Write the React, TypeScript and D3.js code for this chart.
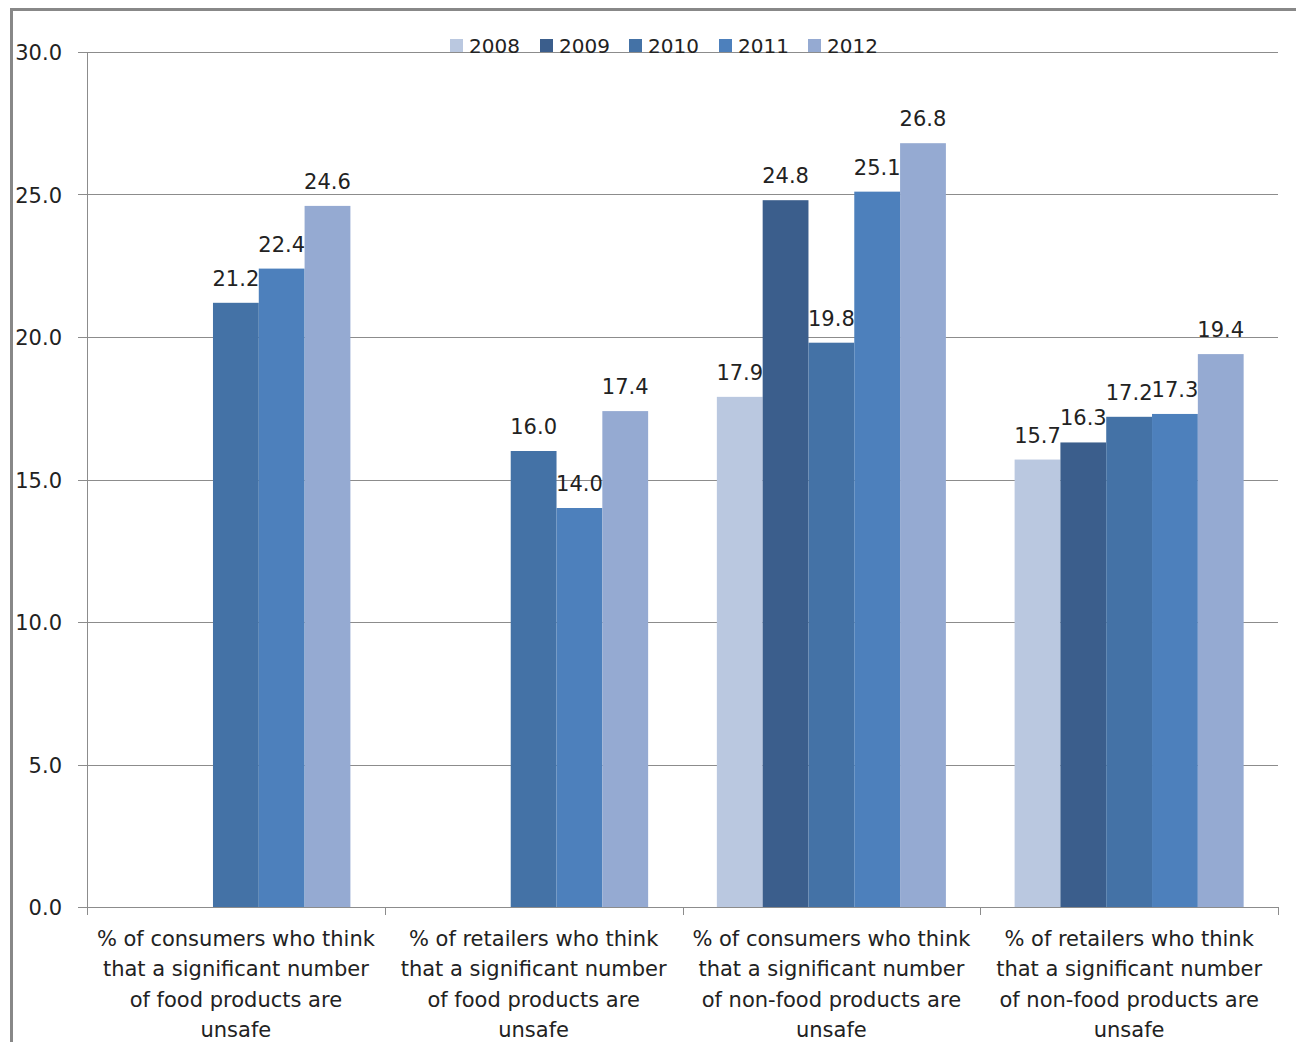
import React from "react";
import * as d3 from "d3";

const categories: string[][] = [
  ["% of consumers who think", "that a significant number", "of food products are", "unsafe"],
  ["% of retailers who think", "that a significant number", "of food products are", "unsafe"],
  ["% of consumers who think", "that a significant number", "of non-food products are", "unsafe"],
  ["% of retailers who think", "that a significant number", "of non-food products are", "unsafe"],
];

const years = ["2008", "2009", "2010", "2011", "2012"];

const values2008: (number | null)[] = [null, null, 17.9, 15.7];
const values2009: (number | null)[] = [null, null, 24.8, 16.3];
const values2010: (number | null)[] = [21.2, 16.0, 19.8, 17.2];
const values2011: (number | null)[] = [22.4, 14.0, 25.1, 17.3];
const values2012: (number | null)[] = [24.6, 17.4, 26.8, 19.4];

const yTicks = [0, 5, 10, 15, 20, 25, 30];

const colors = ["#BAC8E0", "#3B5E8C", "#4472A6", "#4D80BC", "#95AAD2"];

const series = [values2008, values2009, values2010, values2011, values2012];

const W = 1296;
const H = 1042;
const left = 87;
const right = 1278;
const top = 52;
const bottom = 907;
const font = "'DejaVu Sans', Verdana, sans-serif";
const textColor = "#222";
const gridColor = "#8c8c8c";

export default function App() {
  const x = d3
    .scaleBand<number>()
    .domain(d3.range(categories.length))
    .range([left, right])
    .paddingInner(0)
    .paddingOuter(0);
  const xInner = d3
    .scaleBand<number>()
    .domain(d3.range(years.length))
    .range([0, x.bandwidth()])
    .paddingInner(0)
    .paddingOuter(0.75);
  const y = d3.scaleLinear().domain([0, 30]).range([bottom, top]);

  const boundaries = d3.range(categories.length + 1).map((i) =>
    i < categories.length ? (x(i) as number) : right
  );

  const legendX = [450, 540, 629, 719, 808];

  return (
    <svg
      width={W}
      height={H}
      style={{ position: "absolute", left: 0, top: 0, background: "#fff" }}
      fontFamily={font}
    >
      <rect x={0} y={0} width={W} height={H} fill="#fff" />
      {/* outer chart frame */}
      <rect x={11.5} y={9.5} width={W + 20} height={H + 20} fill="none" stroke="#888" strokeWidth={3} />

      {/* gridlines and y labels */}
      {yTicks.map((t) => (
        <g key={t}>
          <line x1={78} x2={right} y1={Math.round(y(t)) + 0.5} y2={Math.round(y(t)) + 0.5} stroke={gridColor} strokeWidth={1} />
          <text x={62} y={y(t) + 8} textAnchor="end" fontSize={21} fill={textColor}>
            {t.toFixed(1)}
          </text>
        </g>
      ))}

      {/* y axis */}
      <line x1={left + 0.5} x2={left + 0.5} y1={top} y2={bottom} stroke={gridColor} strokeWidth={1} />

      {/* bars */}
      {series.map((vals, si) =>
        vals.map((v, ci) => {
          if (v === null) return null;
          const bx = (x(ci) as number) + (xInner(si) as number);
          return (
            <rect
              key={`${si}-${ci}`}
              x={bx}
              y={y(v)}
              width={xInner.bandwidth()}
              height={bottom - y(v)}
              fill={colors[si]}
            />
          );
        })
      )}

      {/* x axis and category ticks */}
      <line x1={left} x2={right} y1={bottom + 0.5} y2={bottom + 0.5} stroke={gridColor} strokeWidth={1} />
      {boundaries.map((bx, i) => (
        <line key={i} x1={Math.round(bx) + 0.5} x2={Math.round(bx) + 0.5} y1={bottom} y2={bottom + 8} stroke={gridColor} strokeWidth={1} />
      ))}

      {/* value labels */}
      {series.map((vals, si) =>
        vals.map((v, ci) => {
          if (v === null) return null;
          const cx = (x(ci) as number) + (xInner(si) as number) + xInner.bandwidth() / 2;
          return (
            <text
              key={`l${si}-${ci}`}
              x={cx}
              y={y(v) - 17}
              textAnchor="middle"
              fontSize={21}
              fill={textColor}
            >
              {v.toFixed(1)}
            </text>
          );
        })
      )}

      {/* category labels */}
      {categories.map((lines, ci) => (
        <text key={ci} textAnchor="middle" fontSize={21} fill={textColor}>
          {lines.map((ln, li) => (
            <tspan key={li} x={(x(ci) as number) + x.bandwidth() / 2} y={946 + li * 30.3}>
              {ln}
            </tspan>
          ))}
        </text>
      ))}

      {/* legend */}
      {years.map((yr, i) => (
        <g key={yr}>
          <rect x={legendX[i]} y={39} width={13} height={13} fill={colors[i]} />
          <text x={legendX[i] + 19} y={53} fontSize={20} fill={textColor}>
            {yr}
          </text>
        </g>
      ))}
    </svg>
  );
}
